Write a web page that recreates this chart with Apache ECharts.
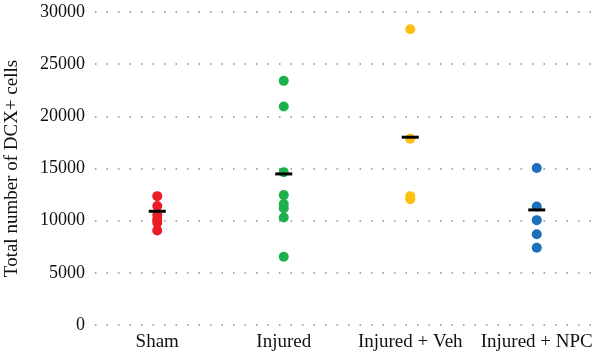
<!DOCTYPE html>
<html><head><meta charset="utf-8">
<script src="https://cdn.jsdelivr.net/npm/echarts@6/dist/echarts.min.js"></script>
<style>html,body{margin:0;padding:0;background:#fff}#c{width:600px;height:356px}</style>
</head><body><div id="c"></div>
<script>
var categories = ['Sham', 'Injured', 'Injured + Veh', 'Injured + NPC'];
var shamValues = [12350, 11400, 10550, 10100, 9800, 9050];
var injuredValues = [23400, 20950, 14650, 12450, 11600, 11200, 10300, 6550];
var vehValues = [28350, 17850, 12350, 12050];
var npcValues = [15050, 11350, 10050, 8700, 7400];
var meanValues = [10900, 14480, 18000, 11030];
var yTicks = [0, 5000, 10000, 15000, 20000, 25000, 30000];
var colors = ['#ec1c24', '#1db14b', '#fdbf12', '#1b6fbd'];

var groups = [shamValues, injuredValues, vehValues, npcValues];
var series = groups.map(function (vals, i) {
  return {
    type: 'scatter',
    symbol: 'circle',
    symbolSize: 10,
    itemStyle: { color: colors[i], opacity: 1 },
    data: vals.map(function (v) { return [i, v]; }),
    z: 2
  };
});
series.push({
  type: 'scatter',
  symbol: 'rect',
  symbolSize: [17, 3],
  itemStyle: { color: '#000', opacity: 1 },
  data: meanValues.map(function (v, i) { return [i, v]; }),
  z: 5
});

var chart = echarts.init(document.getElementById('c'));
chart.setOption({
  animation: false,
  textStyle: { fontFamily: 'Liberation Serif' },
  grid: { left: 94, right: 0, top: 12, bottom: 31, containLabel: false, outerBoundsMode: 'none' },
  xAxis: {
    type: 'category',
    data: categories,
    axisLine: { show: false },
    axisTick: { show: false },
    splitLine: { show: false },
    axisLabel: { color: '#111', fontSize: 19, fontFamily: 'Liberation Serif', margin: 8, interval: 0, hideOverlap: false }
  },
  yAxis: {
    type: 'value',
    min: yTicks[0],
    max: yTicks[yTicks.length - 1],
    interval: 5000,
    name: 'Total number of DCX+ cells',
    nameLocation: 'middle',
    nameGap: 72,
    nameTextStyle: { color: '#111', fontSize: 19, fontFamily: 'Liberation Serif' },
    axisLine: { show: false },
    axisTick: { show: false },
    axisLabel: { color: '#111', fontSize: 18, fontFamily: 'Liberation Serif', margin: 9,
      formatter: function (v) { return String(v); } },
    splitLine: { show: true, lineStyle: { color: '#8a8a8a', width: 1.5, type: [1.5, 10], dashOffset: -1 } }
  },
  series: series
});
</script></body></html>
